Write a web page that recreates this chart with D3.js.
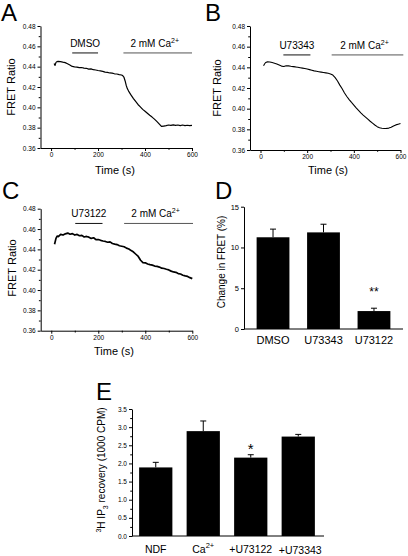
<!DOCTYPE html>
<html><head><meta charset="utf-8">
<script src="https://cdn.jsdelivr.net/npm/d3@7"></script>
<style>
html,body{margin:0;padding:0;background:#fff;}
svg{display:block;font-family:Arial,"Liberation Sans",Helvetica,sans-serif;}
</style></head><body>
<svg id="c" width="408" height="556"></svg>
<script>
// ---------- DATA ----------
const timeA = [13,17,21,25,30,40,50,60,70,80,90,100,110,120,130,140,150,160,170,180,190,200,210,220,230,240,250,260,270,280,290,300,305,310,315,320,325,330,340,350,360,370,380,390,400,410,420,430,440,450,460,470,480,490,500,510,520,530,540,550,560,570,580,590,600];
const fretA = [0.4432,0.4412,0.4442,0.4450,0.4452,0.4449,0.4444,0.4440,0.4428,0.4416,0.4402,0.4398,0.4396,0.4390,0.4392,0.4386,0.4384,0.4376,0.4378,0.4370,0.4367,0.4362,0.4358,0.4354,0.4346,0.4344,0.4338,0.4336,0.4330,0.4328,0.4322,0.4318,0.4312,0.4298,0.4262,0.4215,0.4182,0.4160,0.4122,0.4088,0.4058,0.4028,0.4004,0.3980,0.3962,0.3942,0.3922,0.3904,0.3884,0.3862,0.3838,0.3812,0.3816,0.3820,0.3826,0.3822,0.3828,0.3822,0.3826,0.3820,0.3826,0.3820,0.3824,0.3820,0.3823];

const timeB = [13,18,22,30,40,50,60,70,80,90,100,110,120,130,140,150,160,170,180,190,200,210,220,230,240,250,260,270,280,290,300,310,320,330,340,350,360,370,380,390,400,410,420,430,440,450,460,470,480,490,500,510,520,530,540,550,560,570,580,590,600];
const fretB = [0.4415,0.4435,0.4447,0.4453,0.4452,0.4446,0.4440,0.4432,0.4422,0.4412,0.4408,0.4416,0.4414,0.4410,0.4407,0.4404,0.4400,0.4396,0.4392,0.4388,0.4384,0.4378,0.4372,0.4366,0.4362,0.4358,0.4354,0.4350,0.4346,0.4342,0.4336,0.4325,0.4300,0.4268,0.4228,0.4192,0.4152,0.4118,0.4088,0.4060,0.4034,0.4008,0.3984,0.3960,0.3938,0.3918,0.3898,0.3878,0.3860,0.3842,0.3826,0.3815,0.3810,0.3808,0.3809,0.3812,0.3820,0.3832,0.3843,0.3850,0.3856];

const timeC = [14,20,25,30,40,50,60,70,80,90,100,110,120,130,140,150,160,170,180,190,200,210,220,230,240,250,260,270,280,290,300,310,320,330,340,350,360,370,380,390,400,410,420,430,440,450,460,470,480,490,500,510,520,530,540,550,560,570,580,590,600];
const fretC = [0.4450,0.4508,0.4530,0.4526,0.4548,0.4541,0.4553,0.4560,0.4549,0.4555,0.4541,0.4547,0.4534,0.4538,0.4522,0.4527,0.4520,0.4508,0.4514,0.4495,0.4497,0.4489,0.4482,0.4478,0.4470,0.4474,0.4458,0.4452,0.4447,0.4436,0.4431,0.4426,0.4412,0.4404,0.4388,0.4374,0.4352,0.4330,0.4293,0.4270,0.4268,0.4256,0.4250,0.4245,0.4236,0.4232,0.4226,0.4215,0.4212,0.4204,0.4198,0.4186,0.4178,0.4174,0.4162,0.4158,0.4146,0.4139,0.4134,0.4122,0.4112];

const fretTicks = [0.36,0.38,0.40,0.42,0.44,0.46,0.48];
const fretMinor = [0.37,0.39,0.41,0.43,0.45,0.47];
const timeTicks = [0,200,400,600];
const timeMinor = [100,300,500];

// treatment bars: [label, start, end]
const annA = [["DMSO",90,200],["2 mM Ca",308,600]];
const annB = [["U73343",98,214],["2 mM Ca",305,612]];
const annC = [["U73122",102,218],["2 mM Ca",310,603]];

const catD = ["DMSO","U73343","U73122"];
const valD = [11.25,11.85,2.2];
const semD = [1.0,1.0,0.35];
const dTicks = [0,5,10,15];

const catE = ["NDF","Ca","+U73122","+U73343"];
const valE = [1.89,2.89,2.16,2.74];
const semE = [0.14,0.28,0.08,0.06];
const eTicks = [0,0.5,1.0,1.5,2.0,2.5,3.0,3.5];
const eMinor = [0.25,0.75,1.25,1.75,2.25,2.75,3.25];

// ---------- DRAW ----------
const svg = d3.select("#c");
const FONT = "Arial, 'Liberation Sans', Helvetica, sans-serif";

function styleAxis(g, fs){
  g.attr("font-family", FONT).attr("font-size", fs);
  g.selectAll("path,line").attr("stroke","#000").attr("stroke-width",1);
  g.selectAll("text").attr("fill","#000");
}

function letter(txt, x, y){
  svg.append("text").attr("x",x).attr("y",y).attr("font-size",24).attr("fill","#000").text(txt);
}

function trace(cfg){
  const x = d3.scaleLinear().domain([-45,600]).range(cfg.xr);
  const y = d3.scaleLinear().domain([0.36,0.48]).range(cfg.yr);
  const g = svg.append("g");
  const ya = g.append("g").attr("transform",`translate(${cfg.xr[0]},0)`)
    .call(d3.axisLeft(y).tickValues(fretTicks).tickFormat(d3.format(".2f")).tickSize(3).tickSizeOuter(0).tickPadding(2));
  styleAxis(ya, 6.5);
  const ym = g.append("g").attr("transform",`translate(${cfg.xr[0]},0)`)
    .call(d3.axisLeft(y).tickValues(fretMinor).tickFormat("").tickSize(1.8));
  ym.select(".domain").remove(); styleAxis(ym, 6.5);
  const xa = g.append("g").attr("transform",`translate(0,${cfg.yr[0]})`)
    .call(d3.axisBottom(x).tickValues(timeTicks).tickFormat(d3.format("d")).tickSize(3).tickSizeOuter(0).tickPadding(1.5));
  styleAxis(xa, 6.5);
  const xm = g.append("g").attr("transform",`translate(0,${cfg.yr[0]})`)
    .call(d3.axisBottom(x).tickValues(timeMinor).tickFormat("").tickSize(1.8));
  xm.select(".domain").remove(); styleAxis(xm, 6.5);
  g.append("text").attr("transform",`translate(${cfg.ylab[0]},${cfg.ylab[1]}) rotate(-90)`)
    .attr("text-anchor","middle").attr("font-size",11).text("FRET Ratio");
  g.append("text").attr("x",cfg.xlab[0]).attr("y",cfg.xlab[1])
    .attr("text-anchor","middle").attr("font-size",11).text("Time (s)");
  const pts = cfg.t.map((t,i)=>[t,cfg.v[i]]);
  g.append("path").datum(pts)
    .attr("d", d3.line().x(d=>x(d[0])).y(d=>y(d[1])))
    .attr("fill","none").attr("stroke","#000").attr("stroke-width",cfg.sw).attr("stroke-linejoin","round");
  cfg.ann.forEach((a,i)=>{
    const x0 = x(a[1]), x1 = Math.min(x(a[2]), cfg.xr[1]+4);
    g.append("line").attr("x1",x0).attr("x2",x1).attr("y1",y(cfg.annV)).attr("y2",y(cfg.annV))
      .attr("stroke", i===0 ? "#111" : "#555").attr("stroke-width",1);
    const t = g.append("text").attr("x",(x0+x1)/2 - (i===1?3:0)).attr("y",y(cfg.annV)-6)
      .attr("text-anchor","middle").attr("font-size",10).text(a[0]);
    if(i===1){
      t.append("tspan").attr("dy",-4).attr("font-size",7).text("2+");
    }
  });
}

letter("A", 1, 21);
trace({xr:[40.5,192], yr:[148,26], t:timeA, v:fretA, sw:1.2, ann:annA, annV:0.4535,
  ylab:[15,87], xlab:[115,174]});
letter("B", 205, 21);
trace({xr:[250,400.5], yr:[150,26], t:timeB, v:fretB, sw:1.1, ann:annB, annV:0.452,
  ylab:[221,88], xlab:[328,174]});
letter("C", 2, 199);
trace({xr:[40.7,192.3], yr:[330.7,208.7], t:timeC, v:fretC, sw:1.7, ann:annC, annV:0.4655,
  ylab:[16,268], xlab:[114,355]});

letter("D", 215, 199);
(function(){
  const y = d3.scaleLinear().domain([0,15]).range([329,206.7]);
  const x = d3.scaleBand().domain(catD).range([244,403]).paddingInner(0.35).paddingOuter(0.25);
  const g = svg.append("g");
  const ya = g.append("g").attr("transform","translate(244,0)")
    .call(d3.axisLeft(y).tickValues(dTicks).tickSize(3).tickSizeOuter(0).tickPadding(2));
  styleAxis(ya, 7.5);
  g.append("line").attr("x1",244).attr("x2",403).attr("y1",y(0)).attr("y2",y(0)).attr("stroke","#000");
  catD.forEach((c,i)=>{
    const cx = x(c)+x.bandwidth()/2;
    g.append("line").attr("x1",cx).attr("x2",cx).attr("y1",y(valD[i])).attr("y2",y(valD[i]+semD[i])).attr("stroke","#000");
    g.append("line").attr("x1",cx-3).attr("x2",cx+3).attr("y1",y(valD[i]+semD[i])).attr("y2",y(valD[i]+semD[i])).attr("stroke","#000");
    g.append("rect").attr("x",x(c)).attr("width",x.bandwidth()).attr("y",y(valD[i])).attr("height",y(0)-y(valD[i])).attr("fill","#000");
    g.append("text").attr("x",cx).attr("y",344).attr("text-anchor","middle").attr("font-size",11).text(c);
  });
  const cx2 = x(catD[2])+x.bandwidth()/2;
  g.append("text").attr("x",cx2).attr("y",y(valD[2]+semD[2])-12).attr("text-anchor","middle").attr("font-size",12).text("**");
  g.append("text").attr("transform","translate(225,262) rotate(-90)").attr("text-anchor","middle")
    .attr("font-size",10).text("Change in FRET (%)");
})();

letter("E", 96, 400);
(function(){
  const y = d3.scaleLinear().domain([0,3.5]).range([536,409]);
  const x = d3.scaleBand().domain(catE).range([132,322]).paddingInner(0.3).paddingOuter(0.15);
  const g = svg.append("g");
  const ya = g.append("g").attr("transform","translate(132,0)")
    .call(d3.axisLeft(y).tickValues(eTicks).tickFormat(d3.format(".1f")).tickSize(3).tickSizeOuter(0).tickPadding(2));
  styleAxis(ya, 6.5);
  const ym = g.append("g").attr("transform","translate(132,0)")
    .call(d3.axisLeft(y).tickValues(eMinor).tickFormat("").tickSize(1.8));
  ym.select(".domain").remove(); styleAxis(ym, 6.5);
  g.append("line").attr("x1",132).attr("x2",324).attr("y1",y(0)).attr("y2",y(0)).attr("stroke","#000");
  catE.forEach((c,i)=>{
    const cx = x(c)+x.bandwidth()/2;
    g.append("line").attr("x1",cx).attr("x2",cx).attr("y1",y(valE[i])).attr("y2",y(valE[i]+semE[i])).attr("stroke","#000");
    g.append("line").attr("x1",cx-3).attr("x2",cx+3).attr("y1",y(valE[i]+semE[i])).attr("y2",y(valE[i]+semE[i])).attr("stroke","#000");
    g.append("rect").attr("x",x(c)).attr("width",x.bandwidth()).attr("y",y(valE[i])).attr("height",y(0)-y(valE[i])).attr("fill","#000");
    const t = g.append("text").attr("x",cx + (i===3?2:0)).attr("y",553 + (i===3?1:0)).attr("text-anchor","middle").attr("font-size",10.5).text(c);
    if(c==="Ca") t.append("tspan").attr("dy",-5).attr("font-size",7.5).text("2+");
  });
  const cx2 = x(catE[2])+x.bandwidth()/2;
  g.append("text").attr("x",cx2).attr("y",y(valE[2]+semE[2])-1).attr("text-anchor","middle").attr("font-size",15).text("*");
  const yl = g.append("text").attr("transform","translate(105,470) rotate(-90)").attr("text-anchor","middle").attr("font-size",10);
  yl.append("tspan").attr("font-size",7).attr("dy",-4).text("3");
  yl.append("tspan").attr("dy",4).text("H IP");
  yl.append("tspan").attr("font-size",7).attr("dy",3).text("3");
  yl.append("tspan").attr("dy",-3).text(" recovery (1000 CPM)");
})();
</script>
</body></html>
